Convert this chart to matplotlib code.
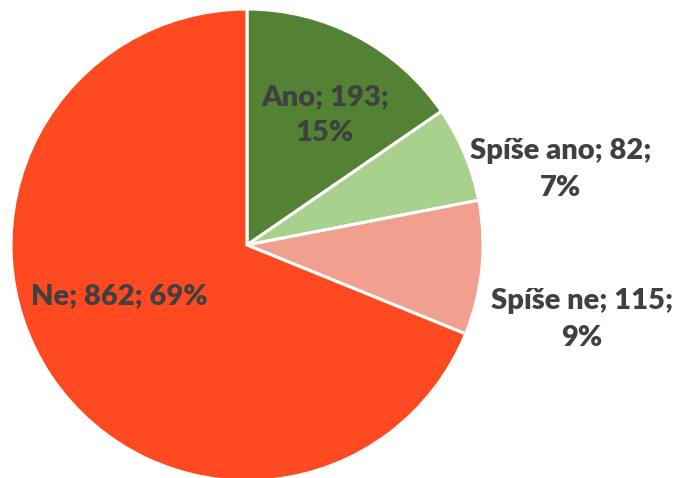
import matplotlib
matplotlib.use('Agg')
import matplotlib.pyplot as plt

categories = ['Ano', 'Spíše ano', 'Spíše ne', 'Ne']
values = [193, 82, 115, 862]
percents = ['15%', '7%', '9%', '69%']
colors = ['#548235', '#A9D18E', '#F19F8E', '#FF4A21']

# label text and placement (axes data coords, pie radius = 1)
labels = ['Ano; 193;\n15%', 'Spíše ano; 82;\n7%', 'Spíše ne; 115;\n9%', 'Ne; 862; 69%']
label_pos = [(0.33, 0.55), (1.33, 0.32), (1.42, -0.315), (-0.54, -0.215)]

W, H = 680, 478
fig = plt.figure(figsize=(W / 100, H / 100), dpi=100)
cx, cy, r = 247, 478 - 245, 236
ax = fig.add_axes([(cx - r) / W, (cy - r) / H, 2 * r / W, 2 * r / H])
ax.pie(values, colors=colors, startangle=90, counterclock=False, radius=1,
       wedgeprops=dict(edgecolor='white', linewidth=2.2))
ax.set_xlim(-1, 1)
ax.set_ylim(-1, 1)
ax.set_aspect('auto')
ax.set_axis_off()

for lab, (x, y) in zip(labels, label_pos):
    ax.text(x, y, lab, ha='center', va='center', fontsize=21, fontweight='heavy',
            color='#404040', family='Lato', linespacing=1.5, clip_on=False)

fig.savefig('out.png', dpi=100)
